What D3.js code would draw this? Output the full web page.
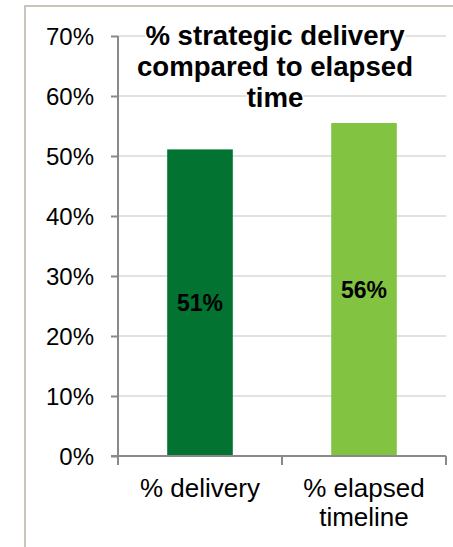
<!DOCTYPE html>
<html>
<head>
<meta charset="utf-8">
<script src="https://cdn.jsdelivr.net/npm/d3@7"></script>
<style>
  html, body { margin: 0; padding: 0; background: #fff; }
  svg { display: block; }
</style>
</head>
<body>
<svg id="chart" width="453" height="547"></svg>
<script>
const categories = ["% delivery", "% elapsed timeline"];
const values = [0.511, 0.555];
const valueLabels = ["51%", "56%"];
const barColors = ["#037332", "#82c341"];
const yTicks = [0, 0.1, 0.2, 0.3, 0.4, 0.5, 0.6, 0.7];
const titleLines = ["% strategic delivery", "compared to elapsed", "time"];

(function () {
const svg = d3.select("#chart");
const font = "'Liberation Sans', Arial, sans-serif";

// outer frame
svg.append("line").attr("x1", 25).attr("x2", 25).attr("y1", 5).attr("y2", 547)
  .attr("stroke", "#cbc4ba").attr("stroke-width", 2);
svg.append("line").attr("x1", 24).attr("x2", 453).attr("y1", 6).attr("y2", 6)
  .attr("stroke", "#cbc4ba").attr("stroke-width", 2);

const pLeft = 118, pRight = 446, pTop = 36, pBottom = 456;

const y = d3.scaleLinear().domain([0, 0.7]).range([pBottom, pTop]);
const x = d3.scaleBand().domain(categories).range([pLeft, pRight])
  .paddingInner(0.6).paddingOuter(0.3);

// gridlines
svg.append("g").selectAll("line").data(yTicks.filter(d => d > 0)).join("line")
  .attr("x1", pLeft).attr("x2", pRight)
  .attr("y1", d => y(d)).attr("y2", d => y(d))
  .attr("stroke", "#d9d9d9").attr("stroke-width", 1.5);

// bars
svg.append("g").selectAll("rect").data(categories).join("rect")
  .attr("x", d => x(d))
  .attr("width", x.bandwidth())
  .attr("y", (d, i) => y(values[i]))
  .attr("height", (d, i) => y(0) - y(values[i]))
  .attr("fill", (d, i) => barColors[i]);

// value labels
svg.append("g").selectAll("text").data(categories).join("text")
  .attr("x", d => x(d) + x.bandwidth() / 2)
  .attr("y", (d, i) => (y(values[i]) + y(0)) / 2 + 8.5)
  .attr("text-anchor", "middle")
  .attr("font-family", font).attr("font-weight", "bold").attr("font-size", 23)
  .attr("fill", "#000")
  .text((d, i) => valueLabels[i]);

// y axis
const yAxis = d3.axisLeft(y).tickValues(yTicks).tickFormat(d3.format(".0%"))
  .tickSize(7).tickSizeOuter(0).tickPadding(17);
const gy = svg.append("g").attr("transform", `translate(${pLeft},0)`).call(yAxis);
gy.select(".domain").remove();
gy.selectAll(".tick line").attr("stroke", "#898989").attr("stroke-width", 2);
gy.selectAll(".tick text").attr("font-family", font).attr("font-size", 24)
  .attr("fill", "#000").attr("dy", "0.36em");

// x axis
const step = x.step();
const bounds = [x(categories[0]) + x.bandwidth() / 2 - step / 2]
  .concat(categories.map(c => x(c) + x.bandwidth() / 2 + step / 2));
svg.append("line").attr("x1", pLeft).attr("x2", pLeft)
  .attr("y1", pTop).attr("y2", pBottom + 9)
  .attr("stroke", "#898989").attr("stroke-width", 2);
svg.append("line").attr("x1", pLeft - 7).attr("x2", pRight)
  .attr("y1", pBottom).attr("y2", pBottom)
  .attr("stroke", "#898989").attr("stroke-width", 2);
svg.append("g").selectAll("line").data(bounds).join("line")
  .attr("x1", d => d).attr("x2", d => d)
  .attr("y1", pBottom).attr("y2", pBottom + 9)
  .attr("stroke", "#898989").attr("stroke-width", 2);

// category labels (wrapped)
const catG = svg.append("g");
categories.forEach(c => {
  const cx = x(c) + x.bandwidth() / 2;
  const t = catG.append("text")
    .attr("x", cx).attr("y", 497)
    .attr("text-anchor", "middle")
    .attr("font-family", font).attr("font-size", 26).attr("fill", "#000");
  const words = c.split(" ");
  let line = [], lines = [];
  const probe = t.append("tspan");
  words.forEach(w => {
    const trial = line.concat([w]).join(" ");
    probe.text(trial);
    if (probe.node().getComputedTextLength() > 160 && line.length) {
      lines.push(line.join(" "));
      line = [w];
    } else line.push(w);
  });
  lines.push(line.join(" "));
  probe.remove();
  lines.forEach((l, i) => {
    t.append("tspan").attr("x", cx).attr("dy", i === 0 ? 0 : 28.5).text(l);
  });
});

// title with tight white backgrounds per line
const titleG = svg.append("g");
titleLines.forEach((l, i) => {
  const t = titleG.append("text")
    .attr("x", 275).attr("y", 44.5 + i * 31)
    .attr("text-anchor", "middle")
    .attr("font-family", font).attr("font-weight", "bold").attr("font-size", 27.6)
    .attr("fill", "#000").text(l);
  const bb = t.node().getBBox();
  titleG.insert("rect", () => t.node())
    .attr("x", bb.x).attr("y", bb.y + 3).attr("width", bb.width).attr("height", bb.height - 6)
    .attr("fill", "#fff");
});
})();
</script>
</body>
</html>
